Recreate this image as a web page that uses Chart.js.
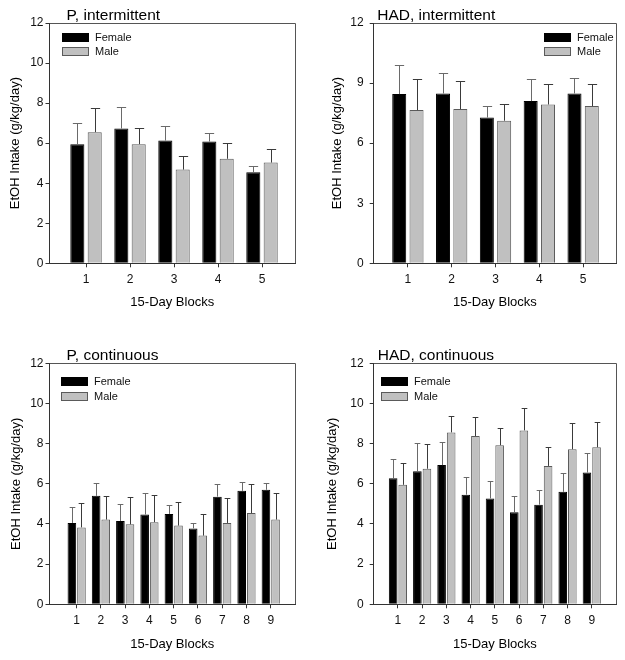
<!DOCTYPE html>
<html><head><meta charset="utf-8">
<script src="https://cdn.jsdelivr.net/npm/chart.js@4.4.0/dist/chart.umd.min.js"></script>
<style>
html,body{margin:0;padding:0;background:#fff;}
#wrap{position:relative;width:625px;height:660px;background:#fff;}
canvas{position:absolute;}
</style></head><body>
<div id="wrap">
<canvas id="c1" width="312" height="320" style="left:0;top:0"></canvas>
<canvas id="c2" width="313" height="320" style="left:312px;top:0"></canvas>
<canvas id="c3" width="312" height="340" style="left:0;top:320px"></canvas>
<canvas id="c4" width="313" height="340" style="left:312px;top:320px"></canvas>
</div>
<script>
// ---- data ----
const seriesNames = ['Female', 'Male'];
const blocks5 = [1, 2, 3, 4, 5];
const blocks9 = [1, 2, 3, 4, 5, 6, 7, 8, 9];
const yTicksStep2 = [0, 2, 4, 6, 8, 10, 12];
const yTicksStep3 = [0, 3, 6, 9, 12];

const pIntFemale = [5.95, 6.73, 6.13, 6.08, 4.55];
const pIntFemaleSE = [1.05, 1.07, 0.75, 0.45, 0.32];
const pIntMale = [6.55, 5.95, 4.68, 5.22, 5.03];
const pIntMaleSE = [1.20, 0.80, 0.67, 0.81, 0.69];

const hadIntFemale = [8.45, 8.48, 7.28, 8.10, 8.48];
const hadIntFemaleSE = [1.43, 1.02, 0.60, 1.08, 0.75];
const hadIntMale = [7.65, 7.70, 7.12, 7.93, 7.85];
const hadIntMaleSE = [1.53, 1.38, 0.86, 1.00, 1.08];

const pContFemale = [4.05, 5.40, 4.15, 4.47, 4.50, 3.78, 5.36, 5.65, 5.70];
const pContFemaleSE = [0.79, 0.63, 0.83, 1.09, 0.43, 0.25, 0.62, 0.43, 0.33];
const pContMale = [3.83, 4.22, 3.98, 4.09, 3.92, 3.42, 4.05, 4.54, 4.22];
const pContMaleSE = [1.20, 1.18, 1.35, 1.34, 1.19, 1.10, 1.23, 1.43, 1.31];

const hadContFemale = [6.28, 6.63, 6.93, 5.46, 5.27, 4.58, 4.96, 5.60, 6.56];
const hadContFemaleSE = [0.93, 1.39, 1.17, 0.87, 0.86, 0.81, 0.73, 0.93, 0.96];
const hadContMale = [5.95, 6.75, 8.56, 8.38, 7.92, 8.66, 6.89, 7.72, 7.82];
const hadContMaleSE = [1.08, 1.22, 0.81, 0.96, 0.84, 1.09, 0.96, 1.29, 1.24];

// ---- drawing ----
const FONT = "'Liberation Sans', Arial, Helvetica, sans-serif";

const errorBarPlugin = {
  id: 'errbars',
  afterDatasetsDraw(chart) {
    const ctx = chart.ctx, ys = chart.scales.y;
    chart.data.datasets.forEach((ds, i) => {
      const meta = chart.getDatasetMeta(i);
      meta.data.forEach((bar, j) => {
        const v = ds.data[j].y, e = ds.errors[j];
        const yTop = Math.round(ys.getPixelForValue(v + e)) + 0.5;
        const xc = Math.round(bar.x) + 0.5;
        const half = bar.width * 0.33;
        ctx.save();
        ctx.strokeStyle = ds.errColor;
        ctx.lineWidth = 1;
        ctx.beginPath();
        ctx.moveTo(xc, bar.y);
        ctx.lineTo(xc, yTop);
        ctx.moveTo(xc - half, yTop);
        ctx.lineTo(xc + half, yTop);
        ctx.stroke();
        ctx.restore();
      });
    });
  }
};

const framePlugin = {
  id: 'frame',
  afterDraw(chart) {
    const ca = chart.chartArea, ctx = chart.ctx;
    ctx.save();
    ctx.strokeStyle = '#555';
    ctx.lineWidth = 1;
    ctx.beginPath();
    ctx.moveTo(Math.round(ca.left), Math.round(ca.top) + 0.5);
    ctx.lineTo(Math.round(ca.right) + 0.5, Math.round(ca.top) + 0.5);
    ctx.lineTo(Math.round(ca.right) + 0.5, Math.round(ca.bottom));
    ctx.stroke();
    ctx.restore();
  }
};

const boxLegend = {
  id: 'boxLegend',
  afterDraw(chart, args, opts) {
    const ca = chart.chartArea, ctx = chart.ctx;
    const x0 = Math.round(opts.anchor === 'right' ? ca.right - opts.dx : ca.left + opts.dx);
    ctx.save();
    chart.data.datasets.forEach((ds, i) => {
      const y = Math.round(ca.top + opts.dy + i * opts.step);
      ctx.fillStyle = ds.backgroundColor;
      ctx.fillRect(x0, y, 27, 9);
      ctx.strokeStyle = ds.borderColor;
      ctx.lineWidth = 1;
      ctx.strokeRect(x0 + 0.5, y + 0.5, 26, 8);
      ctx.fillStyle = '#111';
      ctx.font = '11px ' + FONT;
      ctx.textBaseline = 'middle';
      ctx.textAlign = 'left';
      ctx.fillText(ds.label, x0 + 33, y + 5);
    });
    ctx.restore();
  }
};

const panelTitle = {
  id: 'panelTitle',
  afterDraw(chart, args, opts) {
    const ca = chart.chartArea, ctx = chart.ctx;
    ctx.save();
    ctx.fillStyle = '#000';
    ctx.font = '15.5px ' + FONT;
    ctx.textBaseline = 'alphabetic';
    ctx.textAlign = 'left';
    ctx.fillText(opts.text, ca.left + opts.dx, ca.top - 3);
    ctx.restore();
  }
};

function build(id, o) {
  const datasets = [
    { label: seriesNames[0], data: o.cats.map((c, i) => ({ x: c, y: o.f[i] })), errors: o.fe,
      backgroundColor: '#000000', borderColor: '#000000', borderWidth: 1, errColor: '#6a6a6a' },
    { label: seriesNames[1], data: o.cats.map((c, i) => ({ x: c, y: o.m[i] })), errors: o.me,
      backgroundColor: '#c0c0c0', borderColor: '#5a5a5a', borderWidth: 1, errColor: '#3a3a3a' }
  ];
  const gridOpts = { display: true, drawOnChartArea: false, drawTicks: true, tickLength: 4, tickColor: '#333', offset: false };
  new Chart(document.getElementById(id), {
    type: 'bar',
    data: { datasets },
    options: {
      responsive: false, animation: false, devicePixelRatio: 1,
      categoryPercentage: o.catPct, barPercentage: o.barPct,
      layout: { padding: { top: o.padTop, right: o.padRight, left: 0, bottom: 0 } },
      plugins: {
        legend: { display: false }, tooltip: { enabled: false },
        boxLegend: o.legend,
        panelTitle: { text: o.title, dx: o.titleDx }
      },
      scales: {
        x: {
          type: 'linear', min: o.xmin, max: o.xmax, offset: false,
          afterBuildTicks: s => { s.ticks = o.cats.map(v => ({ value: v })); },
          afterFit: s => { s.height = o.xh; },
          grid: gridOpts,
          border: { display: true, color: '#333' },
          ticks: { font: { size: 12, family: FONT }, color: '#111', padding: 5, autoSkip: false, maxRotation: 0,
                   callback: v => String(v) },
          title: { display: true, text: '15-Day Blocks', font: { size: 13, family: FONT }, color: '#000',
                   padding: { top: 0, bottom: o.xtPad } }
        },
        y: {
          type: 'linear', min: 0, max: 12,
          afterBuildTicks: s => { s.ticks = o.yt.map(v => ({ value: v })); },
          afterFit: s => { s.width = o.yw; },
          grid: gridOpts,
          border: { display: true, color: '#333' },
          ticks: { font: { size: 12, family: FONT }, color: '#111', padding: o.ytp },
          title: { display: true, text: 'EtOH Intake (g/kg/day)', font: { size: 13, family: FONT }, color: '#000',
                   padding: { top: o.ytPad, bottom: 0 } }
        }
      }
    },
    plugins: [errorBarPlugin, framePlugin, boxLegend, panelTitle]
  });
}

build('c1', { cats: blocks5, f: pIntFemale, fe: pIntFemaleSE, m: pIntMale, me: pIntMaleSE, yt: yTicksStep2,
  title: 'P, intermittent', titleDx: 17, xmin: 0.17, xmax: 5.75, catPct: 0.79, barPct: 0.81,
  padTop: 23, padRight: 17, xh: 56.7, yw: 49.5, xtPad: 9.5, ytPad: 7.2, ytp: 2,
  legend: { anchor: 'left', dx: 12, dy: 9.5, step: 14.5 } });

build('c2', { cats: blocks5, f: hadIntFemale, fe: hadIntFemaleSE, m: hadIntMale, me: hadIntMaleSE, yt: yTicksStep3,
  title: 'HAD, intermittent', titleDx: 3.5, xmin: 0.22, xmax: 5.75, catPct: 0.79, barPct: 0.81,
  padTop: 23, padRight: 9, xh: 56.7, yw: 61.7, xtPad: 9.5, ytPad: 17.2, ytp: 6,
  legend: { anchor: 'right', dx: 72, dy: 9.5, step: 14.5 } });

build('c3', { cats: blocks9, f: pContFemale, fe: pContFemaleSE, m: pContMale, me: pContMaleSE, yt: yTicksStep2,
  title: 'P, continuous', titleDx: 17, xmin: -0.12, xmax: 10, catPct: 0.79, barPct: 0.9,
  padTop: 43.3, padRight: 17, xh: 55.7, yw: 49.5, xtPad: 8.2, ytPad: 8.2, ytp: 2,
  legend: { anchor: 'left', dx: 11, dy: 14, step: 14.5 } });

build('c4', { cats: blocks9, f: hadContFemale, fe: hadContFemaleSE, m: hadContMale, me: hadContMaleSE, yt: yTicksStep2,
  title: 'HAD, continuous', titleDx: 4, xmin: 0, xmax: 10, catPct: 0.79, barPct: 0.9,
  padTop: 43.3, padRight: 9, xh: 55.7, yw: 61.7, xtPad: 8.2, ytPad: 12.2, ytp: 6,
  legend: { anchor: 'left', dx: 7.5, dy: 14, step: 14.5 } });
</script>
</body></html>
